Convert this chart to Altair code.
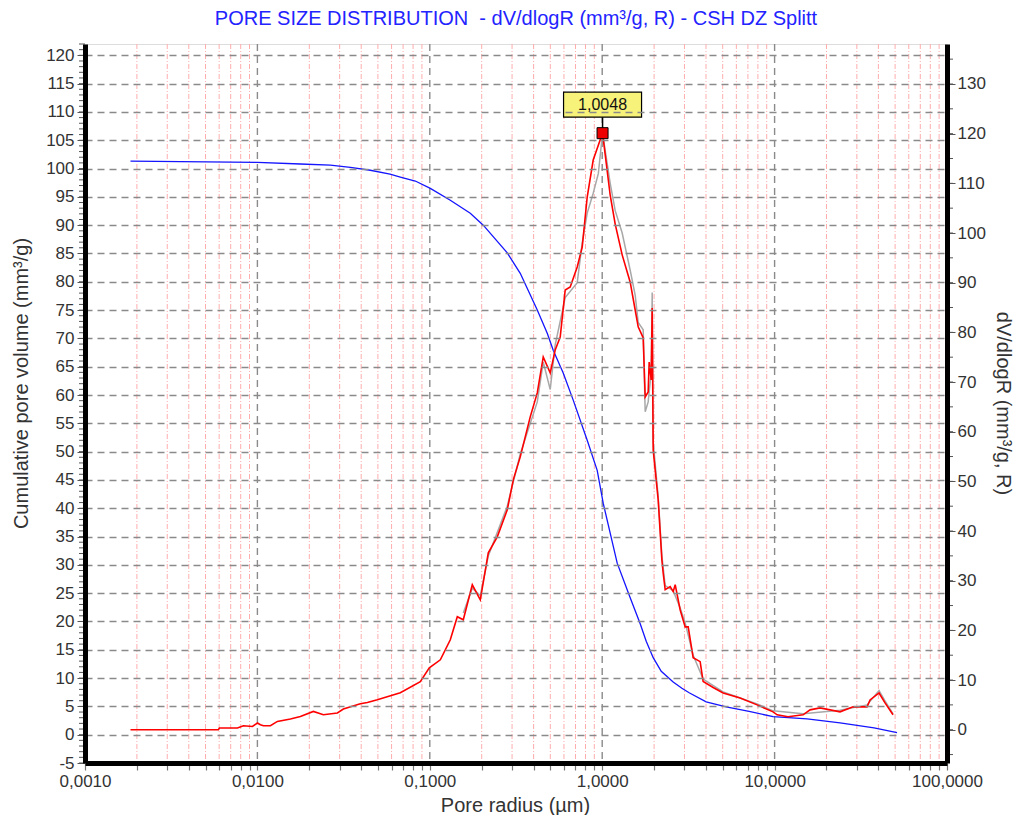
import altair as alt
import pandas as pd

# ---------------- data ----------------
# cumulative pore volume (left axis, mm3/g)
blue_x = [0.001836, 0.01, 0.01776, 0.02650, 0.0346, 0.04519, 0.0588, 0.06745, 0.0824,
          0.1007, 0.1315, 0.1717, 0.2042, 0.2814, 0.3347, 0.4201, 0.4800, 0.5199,
          0.5941, 0.6790, 0.8185, 0.9354, 1.0134, 1.1127, 1.2218, 1.4534, 1.661, 1.8,
          1.976, 2.2, 2.580, 2.9, 3.194, 4.009, 5.233, 7.116, 9.8015, 15.43, 23.97,
          37.74, 51.31]
blue_y = [101.3, 101.1, 100.8, 100.6, 100.2, 99.7, 99.0, 98.5, 97.8,
          96.5, 94.4, 92.1, 90.0, 85.1, 81.5, 75.0, 70.9, 67.9,
          63.9, 59.1, 52.0, 46.7, 40.9, 35.6, 30.3, 24.2, 19.6, 16.5,
          13.6, 11.2, 9.3, 8.2, 7.4, 5.8, 4.9, 4.1, 3.2, 2.8, 2.1,
          1.2, 0.35]

# dV/dlogR (right axis)
red_x = [0.001836, 0.005942, 0.006022, 0.00766, 0.008297, 0.009355, 0.01, 0.01041, 0.01084,
         0.0119, 0.01306, 0.01554, 0.01776, 0.02112, 0.02413, 0.0291, 0.03152, 0.03955,
         0.04342, 0.04963, 0.06745, 0.0881, 0.09934, 0.1151, 0.1315, 0.1444, 0.1564,
         0.1764, 0.1963, 0.2184, 0.2462, 0.2814, 0.3049, 0.3347, 0.3824, 0.4201, 0.4550,
         0.4995, 0.5338, 0.5707, 0.6101, 0.6523, 0.7163, 0.7657, 0.8185, 0.8868, 1.0048,
         1.1127, 1.1896, 1.3058, 1.4534, 1.5536, 1.6171, 1.7289, 1.7758, 1.8479, 1.8727,
         1.9240, 1.9499, 1.976, 2.0291, 2.1119, 2.2191, 2.257, 2.319, 2.4795, 2.580,
         2.6509, 2.8338, 3.0297, 3.1531, 3.3698, 3.6998, 3.8508, 4.4006, 5.028, 6.3096,
         7.916, 9.8015, 10.34, 11.97, 14.63, 16.06, 18.35, 23.97, 28.52, 34.38, 35.78,
         40.35, 43.71, 48.64]
red_y = [0.0, 0.0, 0.34, 0.34, 0.8, 0.66, 1.35, 1.0, 0.8,
         0.8, 1.67, 2.15, 2.68, 3.68, 3.02, 3.36, 4.16, 5.23,
         5.49, 6.04, 7.44, 9.66, 12.47, 14.08, 18.11, 22.74, 22.13,
         29.18, 26.16, 35.61, 38.83, 44.27, 50.30, 54.93, 62.98, 67.81, 75.05,
         71.83, 76.46, 79.07, 88.53, 89.13, 93.16, 97.18, 107.24, 114.69, 120.12,
         107.6, 101.8, 95.6, 90.1, 84.5, 81.1, 78.9, 67.0, 68.0, 74.0,
         70.4, 84.9, 56.3, 52.3, 46.3, 34.2, 31.6, 28.2, 28.8, 27.8,
         29.2, 24.1, 20.7, 20.7, 14.5, 13.7, 9.7, 8.5, 7.4, 6.4,
         5.0, 3.6, 3.0, 2.6, 3.0, 4.0, 4.4, 3.6, 4.6, 4.6, 6.0,
         7.4, 5.4, 3.0]

# raw (grey) trace behind the red curve
grey_x = [0.1564, 0.1764, 0.1963, 0.2184, 0.2814, 0.3347, 0.4201, 0.4550, 0.4995, 0.5338,
          0.6101, 0.7163, 0.7657, 0.8185, 0.8868, 0.95, 1.0048, 1.1127, 1.1896, 1.3058,
          1.4534, 1.5536, 1.6171, 1.7289, 1.7758, 1.8479, 1.9240, 1.9499, 1.976, 2.0291,
          2.1119, 2.2191, 2.3190, 2.580, 2.8338, 3.0297, 3.3698, 3.8508, 5.028, 7.916,
          9.8015, 14.63, 23.97, 34.38, 40.35, 43.71, 48.64]
grey_y = [23.5, 28.5, 27.0, 35.0, 45.0, 55.5, 66.0, 74.0, 68.5, 77.5,
          87.0, 90.0, 98.0, 104.0, 108.0, 112.0, 120.1, 110.0, 104.5, 100.0,
          92.5, 87.5, 82.0, 80.5, 64.0, 66.0, 72.0, 88.0, 58.0, 53.5,
          47.0, 35.0, 29.0, 28.0, 24.5, 21.5, 15.0, 10.2, 7.6, 5.2,
          3.8, 3.2, 3.9, 5.0, 7.9, 5.8, 3.2]

peak_x = [1.0048]
peak_y = [120.1]
peak_label = ["1,0048"]

decade_x = [0.01, 0.1, 1.0, 10.0]
minor_x = [k * 10.0 ** e for e in range(-3, 2) for k in range(2, 10)]
x_ticks = sorted([0.001, 0.01, 0.1, 1.0, 10.0, 100.0] + minor_x)
left_ticks = list(range(-5, 121, 5))
left_minor = list(range(-5, 123))
right_ticks = list(range(0, 131, 10))
right_minor = list(range(-5, 136, 5))

TITLE = "PORE SIZE DISTRIBUTION \u00a0- dV/dlogR (mm³/g, R) - CSH DZ Splitt"
LEFT_TITLE = "Cumulative pore volume (mm³/g)"
RIGHT_TITLE = "dV/dlogR (mm³/g, R)"
X_TITLE = "Pore radius (µm)"

# ---------------- styling ----------------
W, H = 862, 719
FONT = "Liberation Sans"
LBL = "#333333"
TICKFS = 17
TITLEFS = 20
xs = alt.Scale(type="log", domain=[0.001, 100], nice=False)
yL = alt.Scale(domain=[-5, 122], nice=False, zero=False)
yR = alt.Scale(domain=[-6.7, 138.05], nice=False, zero=False)

df_blue = pd.DataFrame({"x": blue_x, "y": blue_y, "i": range(len(blue_x))})
df_red = pd.DataFrame({"x": red_x, "y": red_y, "i": range(len(red_x))})
df_grey = pd.DataFrame({"x": grey_x, "y": grey_y, "i": range(len(grey_x))})
df_peak = pd.DataFrame({"x": peak_x, "y": peak_y, "t": peak_label})

x_axis = alt.Axis(
    values=x_ticks, tickSize=7, tickColor="#777777", tickWidth=1.2,
    domainColor="black", domainWidth=5, grid=False, zindex=1,
    labelExpr="abs(log(datum.value)/LN10 - round(log(datum.value)/LN10)) < 0.001 ? replace(format(datum.value, '.4f'), '.', ',') : ''",
    labelFont=FONT, labelFontSize=TICKFS, labelColor=LBL, labelPadding=3,
    labelOverlap=False, labelFlush=False,
    titleFont=FONT, titleFontSize=TITLEFS, titleFontWeight="normal", titleColor=LBL,
    titleX=430, titleY=42, titleBaseline="middle", titleAlign="center",
)


def xenc(field):
    return alt.X(field, scale=xs, axis=x_axis, title=X_TITLE)


left_axis = alt.Axis(
    orient="left", values=left_ticks, tickSize=8, tickColor="#555555",
    domainColor="black", domainWidth=5, zindex=1,
    grid=True, gridColor="#8a8a8a", gridDash=[7, 5], gridWidth=1.3,
    labelExpr="datum.value + ''", labelFont=FONT, labelFontSize=TICKFS,
    labelColor=LBL, labelPadding=3, labelOverlap=False, labelFlush=False,
    titleFont=FONT, titleFontSize=TITLEFS, titleFontWeight="normal", titleColor=LBL,
    titleX=-64, titleY=339, titleBaseline="middle",
)
right_axis = alt.Axis(
    orient="right", values=right_ticks, tickSize=8, tickColor="#555555",
    domainColor="black", domainWidth=5, zindex=1, grid=False,
    labelFont=FONT, labelFontSize=TICKFS, labelColor=LBL, labelPadding=2,
    labelOverlap=False, labelFlush=False,
    titleFont=FONT, titleFontSize=TITLEFS, titleFontWeight="normal", titleColor=LBL,
    titleX=55, titleY=359, titleBaseline="middle",
)

minor_grid = alt.Chart(pd.DataFrame({"v": minor_x})).mark_rule(
    color="#ffadad", strokeWidth=1, strokeDash=[5, 2, 1, 2]
).encode(x=xenc("v:Q"))

decade_grid = alt.Chart(pd.DataFrame({"v": decade_x})).mark_rule(
    color="#8a8a8a", strokeWidth=1.4, strokeDash=[7, 5]
).encode(x=xenc("v:Q"))

left_minor_ticks = alt.Chart(pd.DataFrame({"v": left_minor})).mark_rule(
    color="#555555", strokeWidth=1
).encode(y=alt.Y("v:Q", scale=yL, axis=None), x=alt.value(-6), x2=alt.value(0))

right_minor_ticks = alt.Chart(pd.DataFrame({"v": right_minor})).mark_rule(
    color="#555555", strokeWidth=1
).encode(y=alt.Y("v:Q", scale=yR, axis=None), x=alt.value(W), x2=alt.value(W + 6))

blue = alt.Chart(df_blue).mark_line(color="#1414ff", strokeWidth=1.3).encode(
    x=xenc("x:Q"),
    y=alt.Y("y:Q", scale=yL, axis=left_axis, title=LEFT_TITLE),
    order="i:Q",
)

grey = alt.Chart(df_grey).mark_line(color="#a8a8a8", strokeWidth=1.5).encode(
    x=xenc("x:Q"),
    y=alt.Y("y:Q", scale=yR, axis=None),
    order="i:Q",
)

red = alt.Chart(df_red).mark_line(color="#ff0000", strokeWidth=1.6).encode(
    x=xenc("x:Q"),
    y=alt.Y("y:Q", scale=yR, axis=right_axis, title=RIGHT_TITLE),
    order="i:Q",
)

pk = alt.Chart(df_peak).encode(
    x=xenc("x:Q"),
    y=alt.Y("y:Q", scale=yR, axis=None),
)
connector = pk.mark_point(shape="M0,-1L0,1", size=144, filled=False, stroke="black",
                          strokeWidth=1.5, opacity=1, yOffset=-11)
box = pk.mark_point(shape="M-1,-0.32L1,-0.32L1,0.32L-1,0.32Z", size=6084, filled=True,
                    fill="#f7f27a", stroke="black", strokeWidth=1.2, opacity=1,
                    yOffset=-28.5)
label = pk.mark_text(font=FONT, fontSize=16, color="#111111", baseline="middle",
                     align="center", yOffset=-28.5).encode(text="t:N")
marker = pk.mark_square(size=121, color="#ee0000", stroke="black", strokeWidth=1,
                        opacity=1)

chart = alt.layer(
    minor_grid, decade_grid, left_minor_ticks, blue, right_minor_ticks,
    grey, red, connector, box, label, marker,
).resolve_scale(y="independent").properties(
    width=W, height=H,
    autosize=alt.AutoSizeParams(type="none"),
    padding={"left": 77, "top": 36, "right": 66, "bottom": 52},
    title=alt.TitleParams(TITLE, font=FONT, fontSize=TITLEFS, fontWeight="normal",
                          color="#2323ff", anchor="middle", offset=14),
).configure_view(stroke="black", strokeWidth=2).configure(background="white")

chart.save("out.html", embed_options={"renderer": "svg", "actions": False})
